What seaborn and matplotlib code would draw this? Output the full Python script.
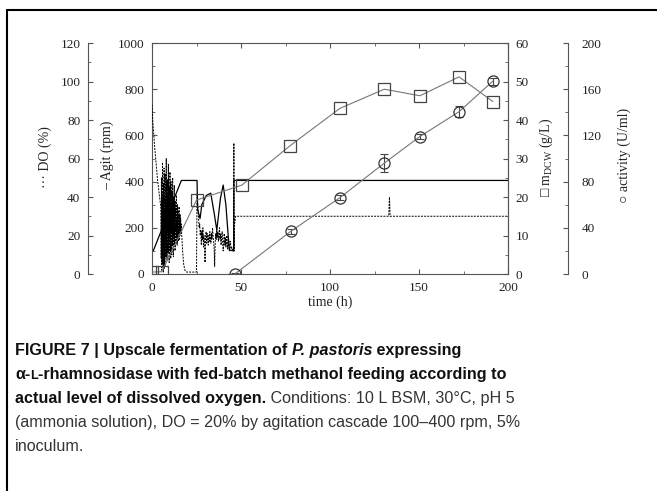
import numpy as np
import matplotlib
matplotlib.use("Agg")
import matplotlib.pyplot as plt
import seaborn as sns
from matplotlib.lines import Line2D
from matplotlib.ticker import MultipleLocator

# ---------------- data ----------------
# biomass (m_DCW, g/L)
t_mdcw = [0, 5.5, 25, 50.5, 77.5, 105.5, 130.5, 150.5, 172.5, 191.5]
mdcw = [0.5, 0.6, 19.2, 23.1, 33.3, 43.0, 48.0, 46.3, 51.2, 44.8]

# enzyme activity (U/ml)
t_act = [46.5, 78, 105.5, 130.5, 150.5, 172.5, 191.5]
act = [0, 37, 66, 96, 119, 140.5, 167]
act_err = [0.5, 2, 2, 7.5, 2, 5, 3]

# agitation (rpm)
t_agit = [0.7, 16.5, 25.3, 25.6, 27.0, 28.0, 30.5, 33.0, 35.0, 36.4, 38.5, 40.0,
          41.5, 43.4, 45.9, 46.0, 200]
agit = [100, 405, 405, 280, 240, 300, 340, 350, 260, 190, 330, 385,
        300, 104, 100, 405, 405]

# dissolved oxygen (%)
do_t_a = [0, 0.4, 1.5, 3.0, 4.5]
do_v_a = [88, 80, 66, 50, 38]
do_noise1_start, do_noise1_step = 5.0, 0.15
do_noise1 = [35, 8, 50, 2, 42, 5, 58, 15, 38, 1, 47, 20, 55, 3, 33, 4, 52, 18, 44, 9,
             60, 14, 36, 7, 49, 22, 41, 11, 57, 16, 30, 6, 45, 19, 53, 12, 38, 8, 48, 21,
             35, 10, 43, 15, 50, 18, 32, 9, 40, 20, 46, 14, 30, 12, 38, 22, 34, 16, 41, 19,
             28, 15, 36, 21, 33, 17, 30, 22, 35, 18, 27, 20, 31, 24, 29, 21, 26]
do_t_b = [16.6, 17.2, 17.8, 18.5, 19.5, 22.5, 24.8, 25.0, 25.3]
do_v_b = [22, 12, 5, 2, 1, 1, 1, 1, 42]
do_noise2_start, do_noise2_step = 25.6, 0.3
do_noise2 = [38, 33, 28, 24, 26, 20, 23, 15, 22, 18, 24, 14, 20, 17, 6, 19, 22, 16, 21, 18,
             15, 20, 17, 22, 19, 16, 21, 18, 24, 20, 17, 13, 4, 16, 21, 18, 23, 19, 22, 17,
             20, 24, 18, 21, 15, 19, 22, 16, 12, 18, 21, 15, 19, 14, 17, 20, 13, 16, 19, 14,
             12, 17, 15, 13]
do_t_c = [44.8, 45.4, 45.9, 46.0, 46.15, 46.4, 47, 133, 133.4, 133.8, 200]
do_v_c = [14, 12, 12, 68, 12, 26, 30, 30, 40, 30, 30]

do_t = (do_t_a
        + list(do_noise1_start + do_noise1_step * np.arange(len(do_noise1)))
        + do_t_b
        + list(do_noise2_start + do_noise2_step * np.arange(len(do_noise2)))
        + do_t_c)
do_v = do_v_a + do_noise1 + do_v_b + do_noise2 + do_v_c

x_ticks = [0, 50, 100, 150, 200]

# ---------------- style ----------------
sns.set_style("ticks")
plt.rcParams["font.family"] = ["Liberation Serif", "DejaVu Serif"]
plt.rcParams["mathtext.fontset"] = "custom"
plt.rcParams["mathtext.rm"] = "Liberation Serif"
plt.rcParams["mathtext.it"] = "Liberation Serif:italic"

W, H = 657, 491
fig = plt.figure(figsize=(W / 100, H / 100), dpi=100)
L, R, T, B = 152, 508, 43, 274
ax = fig.add_axes([L / W, 1 - B / H, (R - L) / W, (B - T) / H])

spine_c = "#555555"
txt_c = "#222222"
tick_fs = 9.5

ax.set_xlim(0, 200)
ax.set_ylim(0, 1000)
ax_do = ax.twinx()
ax_do.set_ylim(0, 120)
ax_m = ax.twinx()
ax_m.set_ylim(0, 60)
ax_a = ax.twinx()
ax_a.set_ylim(0, 200)

for a in (ax, ax_do, ax_m, ax_a):
    for s in a.spines.values():
        s.set_color(spine_c)
        s.set_linewidth(0.8)

# main axes (Agit, left at plot edge)
ax.set_xticks(x_ticks)
ax.xaxis.set_minor_locator(MultipleLocator(25))
ax.yaxis.set_major_locator(MultipleLocator(200))
ax.yaxis.set_minor_locator(MultipleLocator(100))
ax.tick_params(axis="both", which="both", direction="in", color=spine_c,
               top=True, right=False, labelsize=tick_fs, labelcolor=txt_c)
ax.tick_params(axis="both", which="major", length=3.5, pad=5.5)
ax.tick_params(axis="both", which="minor", length=2.5)

# DO axis (offset left)
for k in ("right", "top", "bottom"):
    ax_do.spines[k].set_visible(False)
ax_do.spines["left"].set_visible(True)
ax_do.spines["left"].set_position(("axes", (88 - L) / (R - L)))
ax_do.yaxis.tick_left()
ax_do.yaxis.set_major_locator(MultipleLocator(20))
ax_do.yaxis.set_minor_locator(MultipleLocator(10))
ax_do.tick_params(axis="y", which="both", direction="in", color=spine_c,
                  labelsize=tick_fs, labelcolor=txt_c)
ax_do.tick_params(axis="y", which="major", length=3.5, pad=5.5)
ax_do.tick_params(axis="y", which="minor", length=2.5)

# m_DCW axis (right at plot edge)
for k in ("left", "top", "bottom"):
    ax_m.spines[k].set_visible(False)
ax_m.yaxis.set_major_locator(MultipleLocator(10))
ax_m.yaxis.set_minor_locator(MultipleLocator(5))
ax_m.tick_params(axis="y", which="both", direction="in", color=spine_c,
                 labelsize=tick_fs, labelcolor=txt_c)
ax_m.tick_params(axis="y", which="major", length=3.5, pad=5.5)
ax_m.tick_params(axis="y", which="minor", length=2.5)

# activity axis (offset right)
for k in ("left", "top", "bottom"):
    ax_a.spines[k].set_visible(False)
ax_a.spines["right"].set_position(("axes", 1 + (568 - R) / (R - L)))
ax_a.yaxis.set_major_locator(MultipleLocator(40))
ax_a.yaxis.set_minor_locator(MultipleLocator(20))
ax_a.tick_params(axis="y", which="both", direction="in", color=spine_c,
                 labelsize=tick_fs, labelcolor=txt_c)
ax_a.tick_params(axis="y", which="major", length=3.5, pad=10)
ax_a.tick_params(axis="y", which="minor", length=2.5)

# ---------------- traces ----------------
sns.lineplot(x=do_t, y=do_v, ax=ax_do, estimator=None, sort=False,
             color="black", linewidth=0.7, linestyle=(0, (2, 1.2)))
sns.lineplot(x=t_agit, y=agit, ax=ax, estimator=None, sort=False,
             color="black", linewidth=0.9)
sns.lineplot(x=t_mdcw, y=mdcw, ax=ax_m, estimator=None, sort=False,
             color="#777777", linewidth=0.8, marker="s", markersize=8.5,
             markerfacecolor="none", markeredgecolor="#444444", markeredgewidth=0.9)
ax_a.errorbar(t_act, act, yerr=act_err, fmt="none", ecolor="#444444",
              elinewidth=0.8, capsize=3, capthick=0.8)
sns.lineplot(x=t_act, y=act, ax=ax_a, estimator=None, sort=False,
             color="#777777", linewidth=0.8, marker="o", markersize=8,
             markerfacecolor="none", markeredgecolor="#333333", markeredgewidth=0.9)

for a in (ax, ax_do, ax_m, ax_a):
    a.set_xlabel("")
    a.set_ylabel("")
ax.set_xlim(0, 200)

# ---------------- axis labels ----------------
lab_fs = 10
fig.text(0.5 * (L + R) / W, 1 - 302 / H, "time (h)", ha="center", va="center",
         fontsize=lab_fs, color=txt_c)
fig.text(45 / W, 1 - 157 / H, "··· DO (%)", rotation=90, ha="center", va="center",
         fontsize=lab_fs, color=txt_c)
fig.text(107 / W, 1 - 155 / H, "– Agit (rpm)", rotation=90, ha="center", va="center",
         fontsize=lab_fs, color=txt_c)
fig.text(546 / W, 1 - 157 / H, "□ m$_{\\mathrm{DCW}}$ (g/L)", rotation=90,
         ha="center", va="center", fontsize=lab_fs, color=txt_c)
fig.text(624 / W, 1 - 155 / H, "○ activity (U/ml)", rotation=90, ha="center",
         va="center", fontsize=lab_fs, color=txt_c)

# ---------------- frame lines ----------------
fig.add_artist(Line2D([7 / W, 1], [1 - 10 / H, 1 - 10 / H], transform=fig.transFigure,
                      color="black", lw=1.5))
fig.add_artist(Line2D([7 / W, 7 / W], [0, 1 - 10 / H], transform=fig.transFigure,
                      color="black", lw=1.5))

# ---------------- caption ----------------
cap_fs = 11.6
sans = ["Liberation Sans", "DejaVu Sans"]
fig.canvas.draw()
renderer = fig.canvas.get_renderer()


def put_line(y_px, pieces, x_px=15):
    x = x_px
    for s, kw in pieces:
        kw = dict(kw)
        size = kw.pop("size", cap_fs)
        t = fig.text(x / W, 1 - y_px / H, s, va="baseline", ha="left",
                     family=sans, fontsize=size, **kw)
        bb = t.get_window_extent(renderer)
        x = bb.x1


bold = dict(weight="bold", color="#111111")
boldit = dict(weight="bold", style="italic", color="#111111")
reg = dict(color="#333333")

put_line(355, [("FIGURE 7 | Upscale fermentation of ", bold),
               ("P. pastoris", boldit),
               (" expressing", bold)])
put_line(379, [("α-", bold), ("L", dict(bold, size=cap_fs * 0.78)),
               ("-rhamnosidase with fed-batch methanol feeding according to", bold)])
put_line(403, [("actual level of dissolved oxygen.", bold),
               (" Conditions: 10 L BSM, 30°C, pH 5", reg)])
put_line(427, [("(ammonia solution), DO = 20% by agitation cascade 100–400 rpm, 5%", reg)])
put_line(451, [("inoculum.", reg)])

fig.savefig("out.png", dpi=100)
